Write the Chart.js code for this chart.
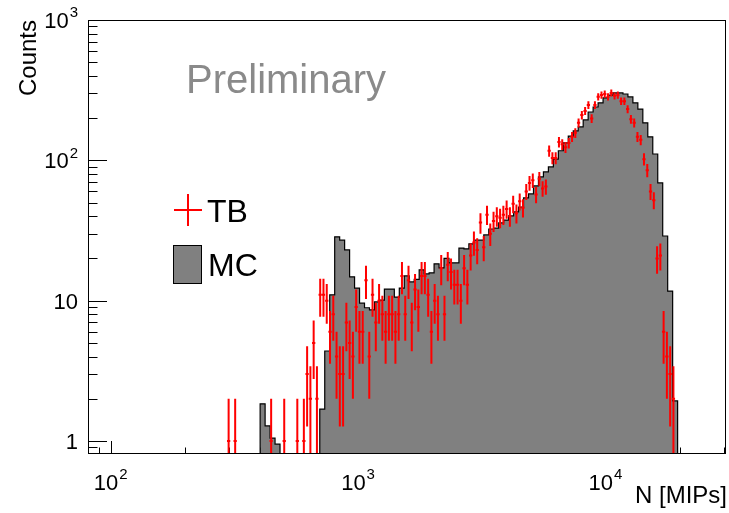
<!DOCTYPE html>
<html>
<head>
<meta charset="utf-8">
<script src="https://cdn.jsdelivr.net/npm/chart.js@4.4.1/dist/chart.umd.min.js"></script>
<style>
  html, body { margin: 0; padding: 0; background: #fff; }
</style>
</head>
<body>
<canvas id="c" width="729" height="513"></canvas>
<script>
// ── values ─────────────────────────────────────────────────────────────────

// MC: log-spaced bins between mcLo and mcHi (counts per bin)
const mcLo = 402, mcHi = 19570;
const mcCounts = [
    1.84, 1.28, 1.05, 0.95, 0, 0, 0, 0, 0, 0,
    0, 0, 1.69, 4.38, 11, 28.5, 27, 23, 14.8, 12.3,
    9.6, 8.9, 8.6, 9.8, 10.1, 12.1, 12.1, 10.6, 12.3, 15.0,
    13.6, 14.2, 16.6, 15.5, 15.8, 18.3, 17.1, 20, 18.6, 18.6,
    23.7, 23.4, 25.4, 27, 27, 29.4, 32.4, 32.9, 35.8, 37.5,
    40.2, 42.9, 46.5, 54.0, 57.6, 65.7, 76.2, 82.7, 89.7, 102,
    117, 133, 149, 162, 173, 194, 221, 240, 257, 279,
    292, 302, 302, 297, 283, 257, 232, 185, 147, 111,
    69, 28.9, 11.7, 1.93
];

// TB: log-spaced bins between tbLo and tbHi, empty bins are not drawn
const tbLo = 295.3, tbHi = 19110;
const tbCounts = [
    1, 0, 1, 0, 0, 0, 0, 0, 0, 0,
    0, 0, 0, 1, 0, 0, 0, 1, 0, 0,
    0, 1, 0, 1, 3, 2, 5, 2, 11, 11,
    10, 6, 8, 4, 3, 3, 7, 5, 4, 9,
    6, 6, 14, 4, 11, 7, 10, 8, 6, 8,
    8, 6, 8, 15, 8, 14, 7, 12, 9, 15,
    15, 11, 6, 10, 8, 17, 8, 18, 16, 13,
    13, 10, 17, 13, 21, 26, 23, 36, 24, 41,
    30, 37, 40, 39, 41, 45, 40, 49, 42, 51,
    46, 60, 69, 72, 57, 74, 63, 65, 117, 104,
    104, 135, 130, 124, 133, 147, 157, 185, 210, 225,
    248, 199, 248, 284, 292, 297, 284, 302, 288, 292,
    264, 264, 232, 196, 185, 147, 140, 102, 85, 60,
    52, 20, 21, 6, 4, 3, 2
];

const xRange = [81, 30700];
const yRange = [0.808, 1000];
const xTicks = [100, 1000, 10000];
const xTickLabels = [['10', '2'], ['10', '3'], ['10', '4']];
const yTicks = [1, 10, 100, 1000];
const yTickLabels = [['1', ''], ['10', ''], ['10', '2'], ['10', '3']];

const FONT = '"Liberation Sans", Arial, Helvetica, sans-serif';

function logEdges(lo, hi, n) {
    const a = Math.log10(lo), b = Math.log10(hi);
    return Array.from({ length: n + 1 }, (_, i) => Math.pow(10, a + (b - a) * i / n));
}

// MC as a stepped outline, closed down to the axis floor at both ends
const mcEdges = logEdges(mcLo, mcHi, mcCounts.length);
const floorY = yRange[0];
const mcPoints = [{ x: mcEdges[0], y: floorY }];
mcCounts.forEach((c, i) => mcPoints.push({ x: mcEdges[i], y: Math.max(c, floorY) }));
mcPoints.push({ x: mcEdges[mcCounts.length], y: Math.max(mcCounts[mcCounts.length - 1], floorY) });
mcPoints.push({ x: mcEdges[mcCounts.length], y: floorY });

// TB points with Poisson errors and bin widths
const tbEdges = logEdges(tbLo, tbHi, tbCounts.length);
const tbPoints = [];
tbCounts.forEach((n, i) => {
    if (n <= 0) return;
    tbPoints.push({ x: Math.sqrt(tbEdges[i] * tbEdges[i + 1]), y: n, xlo: tbEdges[i], xhi: tbEdges[i + 1], err: Math.sqrt(n) });
});

function drawPow(ctx, base, exp, x, y, align, size) {
    ctx.font = size + 'px ' + FONT;
    const wb = ctx.measureText(base).width;
    ctx.font = Math.round(size * 0.68) + 'px ' + FONT;
    const we = exp ? ctx.measureText(exp).width + 1 : 0;
    const w = wb + we;
    let x0 = align === 'right' ? x - w : align === 'center' ? x - w / 2 : x;
    ctx.textAlign = 'left';
    ctx.font = size + 'px ' + FONT;
    ctx.fillText(base, x0, y);
    if (exp) {
        ctx.font = Math.round(size * 0.68) + 'px ' + FONT;
        ctx.fillText(exp, x0 + wb + 1, y - size * 0.48);
    }
}

// ROOT-like frame, inward ticks, labels and legend
const rootStyle = {
    id: 'rootStyle',
    beforeDatasetsDraw(chart) {
        const ctx = chart.ctx, a = chart.chartArea, xs = chart.scales.x, ys = chart.scales.y;
        ctx.save();
        ctx.strokeStyle = '#000';
        ctx.lineWidth = 1;
        ctx.beginPath();
        for (let d = -1; d <= 3; d++) {
            for (let m = 1; m <= 9; m++) {
                const v = m * Math.pow(10, d);
                if (v < ys.min || v > ys.max) continue;
                const py = Math.round(ys.getPixelForValue(v)) + 0.5;
                ctx.moveTo(a.left, py);
                ctx.lineTo(a.left + (m === 1 ? 19 : 9.5), py);
            }
        }
        for (let d = 1; d <= 4; d++) {
            for (let m = 1; m <= 9; m++) {
                const v = m * Math.pow(10, d);
                if (v < xs.min || v > xs.max) continue;
                const px = Math.round(xs.getPixelForValue(v)) + 0.5;
                ctx.moveTo(px, a.bottom);
                ctx.lineTo(px, a.bottom - (m === 1 ? 13 : 6.5));
            }
        }
        ctx.stroke();
        ctx.restore();
    },
    afterDatasetsDraw(chart) {
        const ctx = chart.ctx, a = chart.chartArea, xs = chart.scales.x, ys = chart.scales.y;

        // TB error bars
        const tb = chart.data.datasets[1];
        const meta = chart.getDatasetMeta(1);
        ctx.save();
        ctx.beginPath();
        ctx.rect(a.left, a.top, a.width, a.height);
        ctx.clip();
        ctx.strokeStyle = tb.borderColor;
        ctx.lineWidth = 2;
        tb.data.forEach((p, j) => {
            const el = meta.data[j];
            const yTop = ys.getPixelForValue(p.y + p.err);
            const yBot = p.y - p.err > 0 ? ys.getPixelForValue(p.y - p.err) : a.bottom;
            ctx.beginPath();
            ctx.moveTo(el.x, yTop);
            ctx.lineTo(el.x, yBot);
            ctx.moveTo(xs.getPixelForValue(p.xlo), el.y);
            ctx.lineTo(xs.getPixelForValue(p.xhi), el.y);
            ctx.stroke();
        });
        ctx.restore();

        ctx.save();
        // frame
        ctx.strokeStyle = '#000';
        ctx.lineWidth = 1;
        ctx.strokeRect(a.left + 0.5, a.top + 0.5, a.width - 1, a.height - 1);

        // tick labels
        ctx.fillStyle = '#000';
        ctx.textBaseline = 'alphabetic';
        yTicks.forEach((v, i) => {
            const py = ys.getPixelForValue(v);
            drawPow(ctx, yTickLabels[i][0], yTickLabels[i][1], 78, py + 8, 'right', 22);
        });
        xTicks.forEach((v, i) => {
            const px = xs.getPixelForValue(v);
            drawPow(ctx, xTickLabels[i][0], xTickLabels[i][1], px, 490, 'center', 22);
        });

        // axis titles
        ctx.font = '24px ' + FONT;
        ctx.textAlign = 'right';
        ctx.fillText('N [MIPs]', 727, 503);
        ctx.save();
        ctx.translate(36, a.top);
        ctx.rotate(-Math.PI / 2);
        ctx.textAlign = 'right';
        ctx.fillText('Counts', 0, 0);
        ctx.restore();

        // Preliminary
        ctx.fillStyle = '#8a8a8a';
        ctx.font = '40px ' + FONT;
        ctx.textAlign = 'left';
        ctx.fillText('Preliminary', 186, 93);

        // legend
        const mc = chart.data.datasets[0];
        ctx.strokeStyle = tb.borderColor;
        ctx.lineWidth = 2;
        ctx.beginPath();
        ctx.moveTo(174, 210); ctx.lineTo(202, 210);
        ctx.moveTo(188, 194); ctx.lineTo(188, 226);
        ctx.stroke();
        ctx.fillStyle = mc.backgroundColor;
        ctx.fillRect(173.5, 245.5, 28, 38);
        ctx.strokeStyle = '#000';
        ctx.lineWidth = 1;
        ctx.strokeRect(173.5, 245.5, 28, 38);
        ctx.fillStyle = '#000';
        ctx.font = '32px ' + FONT;
        ctx.fillText(tb.label, 207, 222);
        ctx.fillText(mc.label, 208, 276);
        ctx.restore();
    }
};

new Chart(document.getElementById('c'), {
    type: 'line',
    data: {
        datasets: [
            {
                label: 'MC', data: mcPoints, stepped: true, fill: 'start',
                backgroundColor: '#808080', borderColor: '#000', borderWidth: 1.2,
                pointRadius: 0, tension: 0
            },
            {
                label: 'TB', data: tbPoints, showLine: false,
                borderColor: '#ff0000', backgroundColor: '#ff0000',
                pointRadius: 0
            }
        ]
    },
    options: {
        responsive: false,
        animation: false,
        events: [],
        layout: { padding: { left: 88, top: 20, right: 3, bottom: 59 } },
        plugins: { legend: { display: false }, tooltip: { enabled: false } },
        scales: {
            x: { type: 'logarithmic', min: xRange[0], max: xRange[1], display: false },
            y: { type: 'logarithmic', min: yRange[0], max: yRange[1], display: false }
        }
    },
    plugins: [rootStyle]
});
</script>
</body>
</html>
